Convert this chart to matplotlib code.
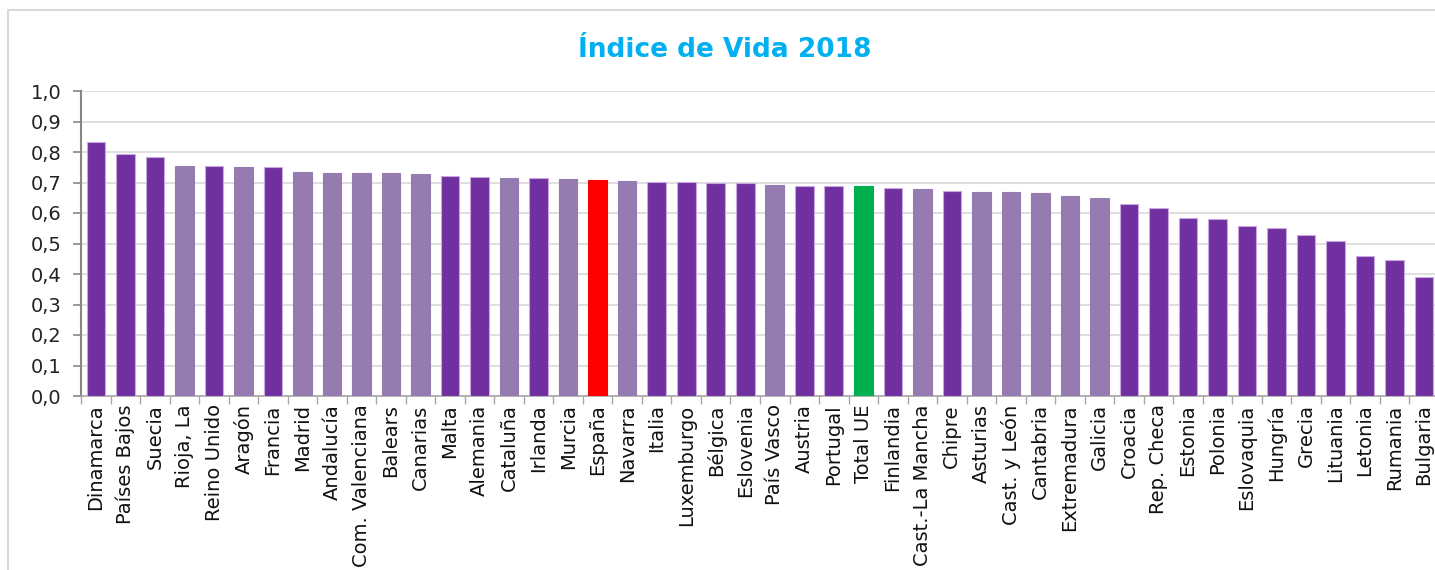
import matplotlib.pyplot as plt
from matplotlib.patches import Rectangle

# Data
categories = ['Dinamarca', 'Países Bajos', 'Suecia', 'Rioja, La', 'Reino Unido', 'Aragón',
              'Francia', 'Madrid', 'Andalucía', 'Com. Valenciana', 'Balears', 'Canarias',
              'Malta', 'Alemania', 'Cataluña', 'Irlanda', 'Murcia', 'España', 'Navarra',
              'Italia', 'Luxemburgo', 'Bélgica', 'Eslovenia', 'País Vasco', 'Austria',
              'Portugal', 'Total UE', 'Finlandia', 'Cast.-La Mancha', 'Chipre', 'Asturias',
              'Cast. y León', 'Cantabria', 'Extremadura', 'Galicia', 'Croacia', 'Rep. Checa',
              'Estonia', 'Polonia', 'Eslovaquia', 'Hungría', 'Grecia', 'Lituania', 'Letonia',
              'Rumania', 'Bulgaria']
values = [0.834, 0.792, 0.783, 0.754, 0.754, 0.751, 0.751, 0.734, 0.731, 0.731, 0.731, 0.728,
          0.720, 0.719, 0.715, 0.714, 0.711, 0.708, 0.705, 0.702, 0.701, 0.698, 0.697, 0.692,
          0.689, 0.689, 0.689, 0.683, 0.679, 0.672, 0.669, 0.669, 0.666, 0.656, 0.649, 0.630,
          0.615, 0.584, 0.579, 0.556, 0.550, 0.528, 0.508, 0.459, 0.445, 0.390]
# group: c = EU country, r = Spanish region, es = Spain, ue = EU total
groups = ['c', 'c', 'c', 'r', 'c', 'r', 'c', 'r', 'r', 'r', 'r', 'r',
          'c', 'c', 'r', 'c', 'r', 'es', 'r', 'c', 'c', 'c', 'c', 'r',
          'c', 'c', 'ue', 'c', 'r', 'c', 'r', 'r', 'r', 'r', 'r', 'c',
          'c', 'c', 'c', 'c', 'c', 'c', 'c', 'c', 'c', 'c']
yticks = [0.0, 0.1, 0.2, 0.3, 0.4, 0.5, 0.6, 0.7, 0.8, 0.9, 1.0]

COLORS = {'c': '#7030A0', 'r': '#947BB0', 'es': '#FF0000', 'ue': '#00B050'}
EDGES = {'c': '#C9A8E0', 'r': '#947BB0', 'es': '#FF0000', 'ue': '#00B050'}

plt.rcParams['font.family'] = ['DejaVu Sans']

fig = plt.figure(figsize=(14.35, 5.7), dpi=100)
# light outer frame
fig.patches.append(Rectangle((8 / 1435, -0.1), 1.1, (570 - 10) / 570 + 0.1,
                             transform=fig.transFigure, fill=False,
                             edgecolor='#D9D9D9', linewidth=1.5))

ax = fig.add_axes([81.2 / 1435, 174 / 570, 1357.6 / 1435, 305 / 570])
x = list(range(len(categories)))
ax.bar(x, values, width=0.63, color=[COLORS[g] for g in groups],
       edgecolor=[EDGES[g] for g in groups], linewidth=0.8, zorder=3)

ax.set_xlim(-0.5, len(categories) - 0.5)
ax.set_ylim(0, 1.0)
ax.set_yticks(yticks)
ax.set_yticklabels([f'{v:.1f}'.replace('.', ',') for v in yticks], fontsize=14, color='#222222')
ax.set_xticks(x)
ax.set_xticklabels(categories, rotation=90, fontsize=14, color='#111111')
ax.set_xticks([i - 0.5 for i in range(len(categories) + 1)], minor=True)
ax.tick_params(axis='x', which='major', length=0, pad=6)
ax.tick_params(axis='x', which='minor', length=6, color='#A6A6A6', width=1)
ax.tick_params(axis='y', length=6, color='#868686', width=1.2, pad=8)
ax.grid(axis='y', color='#D9D9D9', linewidth=1.2, zorder=0)

for side in ['top', 'right']:
    ax.spines[side].set_visible(False)
ax.spines['left'].set_color('#868686')
ax.spines['left'].set_linewidth(1.5)
ax.spines['bottom'].set_color('#A6A6A6')
ax.spines['bottom'].set_linewidth(1.2)

fig.text(725 / 1435, 0.912, 'Índice de Vida 2018', ha='center', va='center',
         fontsize=19, fontweight='bold', color='#00B0F0')

fig.savefig('out.png', dpi=100)
